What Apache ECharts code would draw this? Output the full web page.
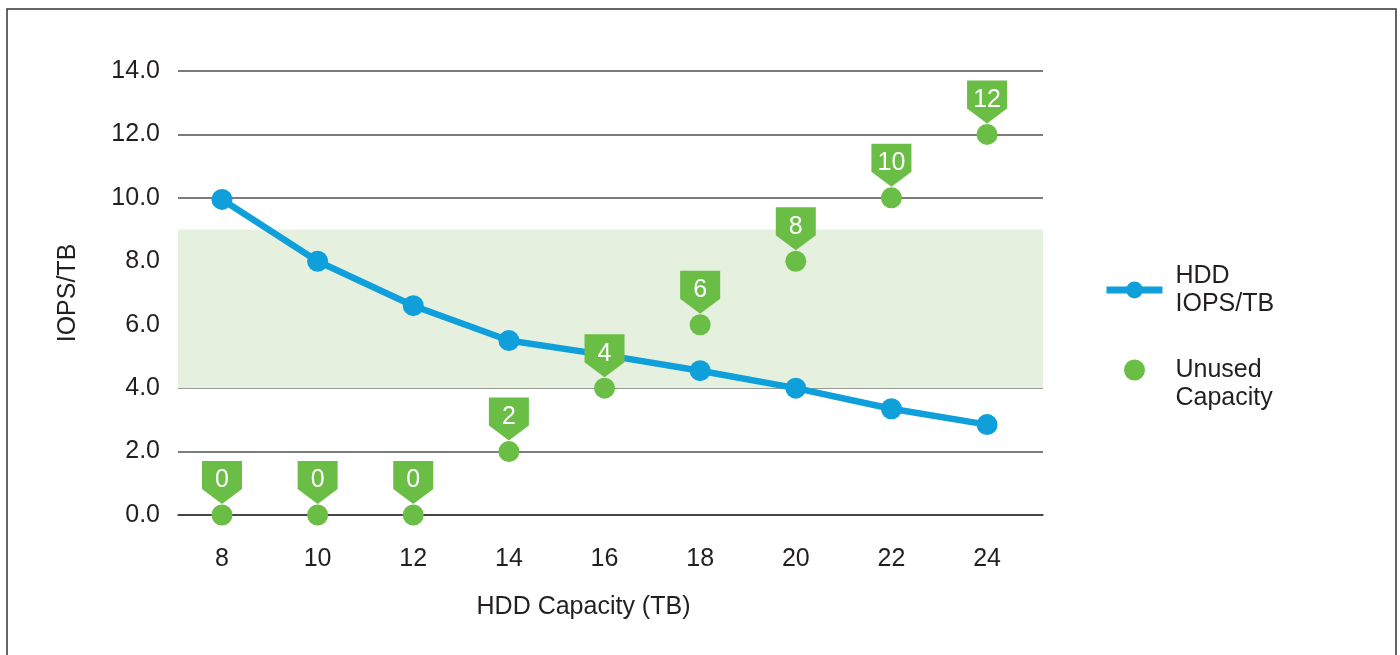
<!DOCTYPE html>
<html>
<head>
<meta charset="utf-8">
<style>
  html, body { margin: 0; padding: 0; background: #fff; }
  #chart { width: 1400px; height: 655px; }
</style>
<script src="https://cdn.jsdelivr.net/npm/echarts@6/dist/echarts.min.js"></script>
</head>
<body>
<div id="chart"></div>
<script>
// ---- data ----
const capacities = [8, 10, 12, 14, 16, 18, 20, 22, 24];
const iopsPerTB = [9.95, 8.0, 6.6, 5.5, 5.05, 4.55, 4.0, 3.35, 2.85];
const unusedCapacity = [0, 0, 0, 2, 4, 6, 8, 10, 12];
const bandRange = [4.0, 9.0];
const yTickValues = [0, 2, 4, 6, 8, 10, 12, 14];
const seriesNames = ['HDD\nIOPS/TB', 'Unused\nCapacity'];
const axisTitles = { x: 'HDD Capacity (TB)', y: 'IOPS/TB' };

// ---- styles ----
const FONT = '"Liberation Sans", Arial, Helvetica, sans-serif';
const TEXT = '#231f20';
const BLUE = '#0f9fdb';
const GREEN = '#6abd45';
const BAND = '#e5f0df';
const GRIDLINE = '#505050';
const FS = 25;

const iopsData = capacities.map((c, i) => [c, iopsPerTB[i]]);
const unusedData = capacities.map((c, i) => [c, unusedCapacity[i]]);

const chart = echarts.init(document.getElementById('chart'), null, { renderer: 'canvas' });

chart.setOption({
  backgroundColor: '#ffffff',
  animation: false,
  textStyle: { fontFamily: FONT, color: TEXT },
  graphic: [{
    type: 'rect',
    z: -10,
    shape: { x: 7, y: 9, width: 1389, height: 700 },
    style: { fill: 'none', stroke: '#333333', lineWidth: 1.5 }
  }],
  grid: { left: 178, right: 357, top: 71, bottom: 140, containLabel: false },
  legend: {
    orient: 'vertical',
    left: 1103,
    top: 262,
    padding: 0,
    itemGap: 10,
    itemWidth: 56,
    itemHeight: 21,
    selectedMode: false,
    textStyle: { fontFamily: FONT, fontSize: FS, color: TEXT, lineHeight: 28, padding: [0, 0, 0, 8] },
    formatter: name => (name === seriesNames[1] ? ' \n' + name : name),
    data: [
      { name: seriesNames[0], lineStyle: { width: 7 } },
      { name: seriesNames[1] }
    ]
  },
  xAxis: {
    type: 'value',
    min: 7.08,
    max: 25.17,
    name: axisTitles.x,
    nameLocation: 'middle',
    nameGap: 80,
    nameTextStyle: { fontFamily: FONT, fontSize: FS, color: TEXT, padding: [0, 54, 0, 0] },
    axisLine: { show: true, onZero: true, lineStyle: { color: '#333333', width: 1.5 } },
    axisTick: { show: false },
    splitLine: { show: false },
    axisLabel: {
      customValues: capacities,
      margin: 32,
      fontFamily: FONT, fontSize: FS, color: TEXT
    }
  },
  yAxis: {
    type: 'value',
    min: 0,
    max: 14,
    interval: 2,
    name: axisTitles.y,
    nameLocation: 'middle',
    nameRotate: 90,
    nameGap: 97,
    nameTextStyle: { fontFamily: FONT, fontSize: FS, color: TEXT },
    axisLine: { show: false },
    axisTick: { show: false },
    axisLabel: {
      margin: 18,
      fontFamily: FONT, fontSize: FS, color: TEXT,
      formatter: v => (yTickValues.includes(v) ? v.toFixed(1) : '')
    },
    splitLine: { show: true, lineStyle: { color: GRIDLINE, width: 1.5 } }
  },
  series: [
    {
      name: seriesNames[0],
      type: 'line',
      z: 3,
      data: iopsData,
      symbol: 'circle',
      symbolSize: 21,
      lineStyle: { color: BLUE, width: 6.5 },
      itemStyle: { color: BLUE },
      markArea: {
        silent: true,
        itemStyle: { color: BAND },
        data: [[{ yAxis: bandRange[0] }, { yAxis: bandRange[1] }]]
      }
    },
    {
      name: seriesNames[1],
      type: 'scatter',
      z: 4,
      data: unusedData,
      symbol: 'circle',
      symbolSize: 21,
      itemStyle: { color: GREEN, opacity: 1 }
    },
    {
      name: 'flags',
      type: 'scatter',
      z: 5,
      data: unusedData,
      symbol: 'path://M0,0L40,0L40,28L20,43L0,28Z',
      symbolSize: [40, 43],
      symbolOffset: [0, -32.5],
      itemStyle: { color: GREEN, opacity: 1 },
      label: {
        show: true,
        position: 'inside',
        offset: [0, -2],
        color: '#ffffff',
        fontFamily: FONT,
        fontSize: FS,
        formatter: p => String(p.value[1])
      }
    }
  ]
});
</script>
</body>
</html>
